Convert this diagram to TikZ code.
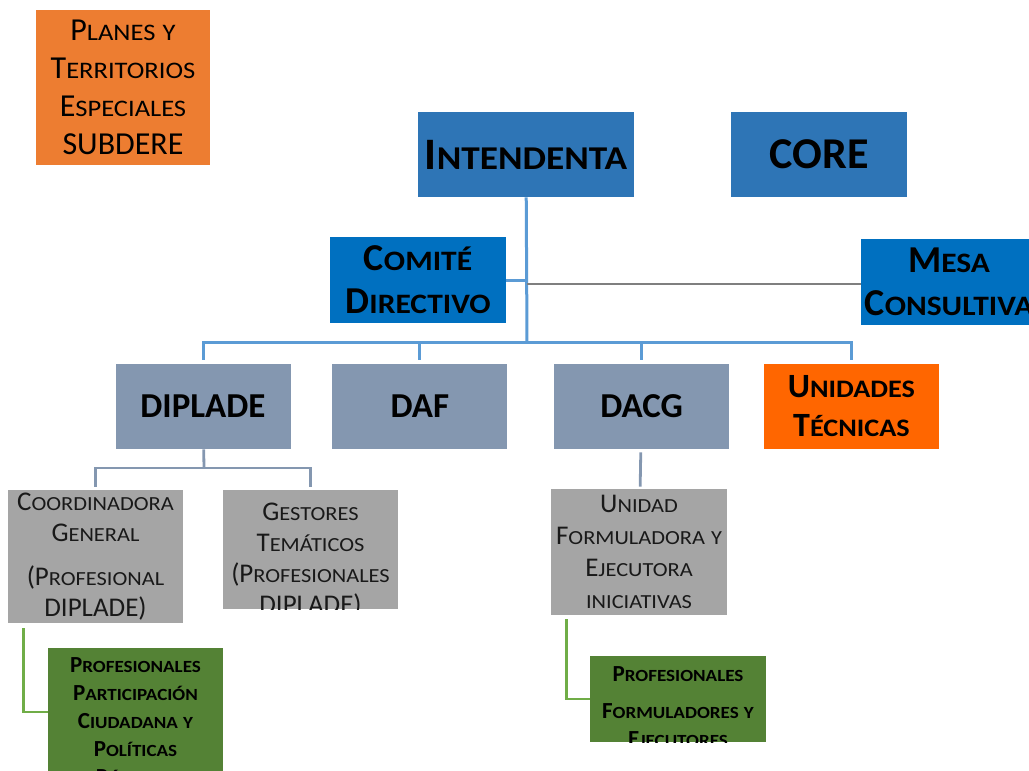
\documentclass[tikz,border=0pt]{standalone}
\usepackage{fontspec}
\setmainfont{Carlito}
\newfontfamily\lcfont[FakeStretch=1.12]{Carlito}
\usetikzlibrary{positioning}

\definecolor{topblue}{HTML}{2E75B6}
\definecolor{deepblue}{HTML}{0070C0}
\definecolor{slate}{HTML}{8497B0}
\definecolor{paleorange}{HTML}{ED7D31}
\definecolor{brightorange}{HTML}{FF6600}
\definecolor{midgray}{HTML}{A5A5A5}
\definecolor{leafgreen}{HTML}{548235}
\definecolor{linkblue}{HTML}{5B9BD5}
\definecolor{linkgreen}{HTML}{70AD47}
\definecolor{linkgray}{HTML}{7F7F7F}

% small capitals drawn from scaled capitals
\makeatletter
\newcommand\lc[1]{{\lcfont\fontsize{\fpeval{0.74*\f@size}}{\f@baselineskip}\selectfont\MakeUppercase{#1}}}
\makeatother

\begin{document}
\begin{tikzpicture}[
		x=0.5pt, y=-0.5pt,
		box/.style={rectangle, inner sep=0pt, align=center, text=black},
		topbox/.style={box, fill=topblue, minimum width=88pt, minimum height=42.5pt, font=\fontsize{22.5}{26}\selectfont\bfseries},
		council/.style={box, fill=deepblue, minimum width=88pt, minimum height=43pt, font=\fontsize{19}{21.5}\selectfont\bfseries},
		dept/.style={box, fill=slate, minimum width=87.5pt, minimum height=42.5pt, font=\fontsize{17.5}{19.5}\selectfont\bfseries},
		unitbox/.style={box, fill=midgray, minimum width=87.5pt, text=black!90, font=\fontsize{13.5}{15.5}\selectfont},
		teambox/.style={box, fill=leafgreen, minimum width=88pt},
		unittext/.style={inner sep=0pt, align=center, text=black!90, font=\fontsize{13.5}{15.5}\selectfont},
		teamtext/.style={inner sep=0pt, align=center, text=black, font=\fontsize{11.5}{14}\selectfont\bfseries},
		clipped/.style n args={3}{path picture={\node[#1, anchor=north] at ([yshift=-#2]path picture bounding box.north) {#3};}},
		bluelink/.style={draw=linkblue, line width=1.5pt},
		slatelink/.style={draw=slate, line width=1.4pt},
		greenlink/.style={draw=linkgreen, line width=1.4pt},
		graylink/.style={draw=linkgray, line width=1pt}
		]
		\clip (0,0) rectangle (1029,771);

		% upper level
		\node[box, fill=paleorange, minimum width=87pt, minimum height=77.5pt, font=\fontsize{16}{19}\selectfont] (planes) at (123,87.5) {P\lc{lanes} \lc{y}\\T\lc{erritorios}\\E\lc{speciales}\\SUBDERE};
		\node[topbox, minimum width=108pt] (intendenta) at (526,154.5) {I\lc{ntendenta}};
		\node[topbox, font=\fontsize{22}{26}\selectfont\bfseries] (core) at (819,154.5) {CORE};
		\node[council] (comite) at (418,280) {C\lc{omité}\\D\lc{irectivo}};
		\node[council] (mesa) at (949,281.5) {M\lc{esa}\\C\lc{onsultiva}};

		% divisions
		\node[dept] (diplade) at (203,406.5) {DIPLADE};
		\node[dept, right=20.5pt of diplade] (daf) {DAF};
		\node[dept, right=23pt of daf] (dacg) {DACG};
		\node[dept, right=17pt of dacg, fill=brightorange, font=\fontsize{17}{19.5}\selectfont\bfseries] (unidades) {U\lc{nidades}\\T\lc{écnicas}};

		% units and teams
		\node[unitbox, minimum height=66.5pt] (coord) at (95.5,556.5) {C\lc{oordinadora}\\G\lc{eneral}\\[6.5pt](P\lc{rofesional}\\DIPLADE)};
		\node[unitbox, minimum height=59.5pt, clipped={unittext}{5pt}{G\lc{estores}\\T\lc{emáticos}\\(P\lc{rofesionales}\\DIPLADE)}] (gestores) at (310.5,549.5) {};
		\node[unitbox, minimum width=88pt, minimum height=63pt, font=\fontsize{13.5}{16}\selectfont] (unidad) at (639,552) {U\lc{nidad}\\F\lc{ormuladora} \lc{y}\\E\lc{jecutora}\\\lc{iniciativas}};
		\node[teambox, minimum width=87.5pt, minimum height=64pt, clipped={teamtext}{4.5pt}{P\lc{rofesionales}\\P\lc{articipación}\\C\lc{iudadana} \lc{y}\\P\lc{olíticas}\\P\lc{úblicas}}] (participa) at (135.5,712) {};
		\node[teambox, minimum height=43pt, clipped={teamtext}{3.5pt}{P\lc{rofesionales}\\[4.5pt]F\lc{ormuladores} \lc{y}\\E\lc{jecutores}}] (formula) at (678,699) {};

		% links
		\coordinate (hub) at (527,342);
		\coordinate (split) at (204,468);
		\draw[bluelink] (intendenta) -- (hub);
		\draw[bluelink] (comite) -- (comite -| hub);
		\draw[graylink] ([yshift=-1pt]mesa.west) -- ([yshift=-1pt]mesa.west -| hub);
		\foreach \unit in {diplade, daf, dacg, unidades}
			\draw[bluelink, shorten >=2pt] (hub) -| (\unit);
		\draw[slatelink] (diplade) -- (split);
		\draw[slatelink, shorten >=1.5pt] (split) -| (coord);
		\draw[slatelink, shorten >=1.5pt] (split) -| (gestores);
		\draw[slatelink, shorten <=1.5pt, shorten >=1pt] (dacg) -- (unidad);
		\draw[greenlink, shorten <=2.5pt] ([xshift=8pt]coord.south west) |- (participa);
		\draw[greenlink, shorten <=2pt] ([xshift=8pt]unidad.south west) |- (formula);
	\end{tikzpicture}
\end{document}
